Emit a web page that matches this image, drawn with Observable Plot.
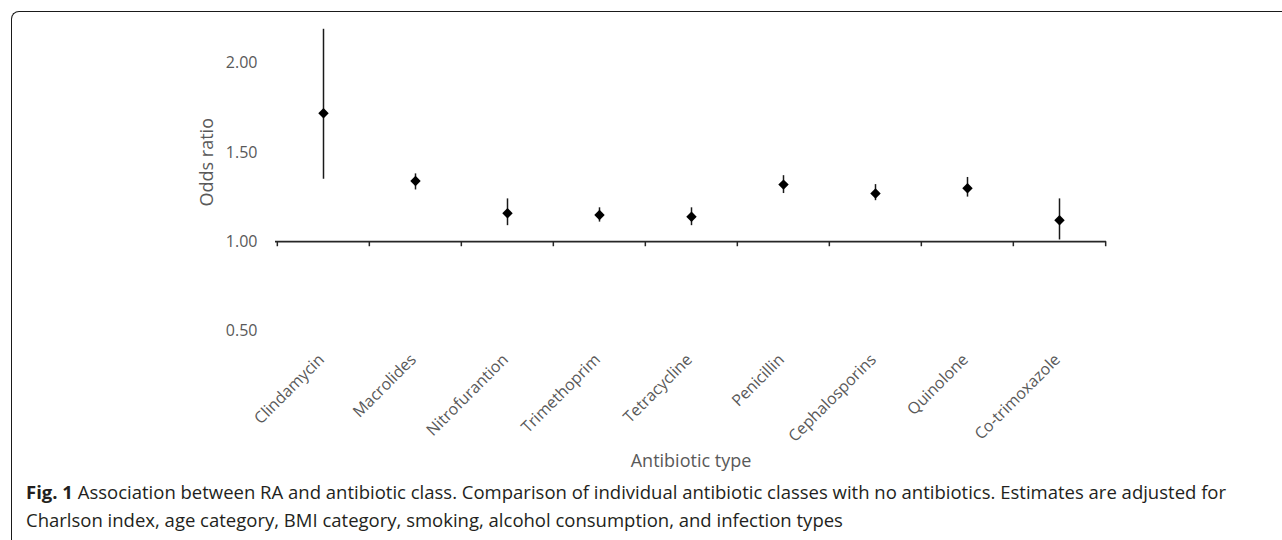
<!DOCTYPE html>
<html>
<head>
<meta charset="utf-8">
<script src="https://cdn.jsdelivr.net/npm/d3@7"></script>
<script src="https://cdn.jsdelivr.net/npm/@observablehq/plot@0.6"></script>
<style>
  html, body { margin: 0; padding: 0; background: #fff; }
  body { width: 1282px; height: 540px; position: relative; overflow: hidden; }
  .frame {
    position: absolute; left: 11px; top: 11px; right: -20px; bottom: -20px;
    border-left: 1.75px solid #1a1a1a; border-top: 1.75px solid #1a1a1a;
    border-top-left-radius: 8px;
  }
  #chart { position: absolute; left: 0; top: 0; }
  .caption {
    position: absolute; left: 26px; top: 478px;
    font-family: "Open Sans", "Noto Sans", sans-serif; font-size: 18.5px; line-height: 28px;
    color: #231f20; white-space: nowrap;
  }
  .caption b { font-weight: 700; }
</style>
</head>
<body>
<div class="frame"></div>
<div id="chart"></div>
<div class="caption"><b>Fig. 1</b> Association between RA and antibiotic class. Comparison of individual antibiotic classes with no antibiotics. Estimates are adjusted for<br>Charlson index, age category, BMI category, smoking, alcohol consumption, and infection types</div>
<script>
const categories = ["Clindamycin", "Macrolides", "Nitrofurantion", "Trimethoprim", "Tetracycline", "Penicillin", "Cephalosporins", "Quinolone", "Co-trimoxazole"];
const oddsRatio = [1.72, 1.34, 1.16, 1.15, 1.14, 1.32, 1.27, 1.30, 1.12];
const lowerCI   = [1.35, 1.29, 1.09, 1.11, 1.09, 1.27, 1.23, 1.25, 1.01];
const upperCI   = [2.19, 1.38, 1.24, 1.19, 1.19, 1.37, 1.32, 1.36, 1.24];
const yTicks = [0.5, 1.0, 1.5, 2.0];
const yLabel = "Odds ratio";
const xLabel = "Antibiotic type";

const rows = categories.map((name, i) => ({name, or: oddsRatio[i], lo: lowerCI[i], hi: upperCI[i]}));

const W = 1282, H = 480, ML = 275, MR = 176, MT = 27, MB = 149.5;
const step = (W - ML - MR) / categories.length;
const axisColor = "#262626";

const chart = Plot.plot({
  width: W, height: H,
  marginLeft: ML, marginRight: MR, marginTop: MT, marginBottom: MB,
  x: {type: "point", domain: categories, padding: 0.5},
  y: {domain: [0.5, 2.2]},
  style: {fontFamily: "'Open Sans', 'Noto Sans', sans-serif", fontSize: "16px", color: "#595959", background: "transparent", overflow: "visible"},
  marks: [
    Plot.axisY({ticks: yTicks, tickFormat: d3.format(".2f"), tickSize: 0, tickPadding: 18, label: null, fontSize: 16}),
    Plot.axisX({tickSize: 0, tickRotate: -45, tickPadding: 26, label: null, fontSize: 16, dx: -2}),
    Plot.ruleX(categories, {x: d => d, y1: () => 1, y2: () => 1, insetBottom: -5, dx: -step / 2, stroke: axisColor, strokeWidth: 1.5}),
    Plot.ruleX(categories.slice(-1), {x: d => d, y1: () => 1, y2: () => 1, insetBottom: -5, dx: step / 2, stroke: axisColor, strokeWidth: 1.5}),
    Plot.ruleY([1], {stroke: axisColor, strokeWidth: 1.75}),
    Plot.ruleX(rows, {x: "name", y1: "lo", y2: "hi", stroke: "#1a1a1a", strokeWidth: 1.5}),
    Plot.dot(rows, {x: "name", y: "or", symbol: "diamond2", r: 4.7, fill: "#000", stroke: "none"}),
    Plot.text([yLabel], {text: d => d, frameAnchor: "left", textAnchor: "middle", lineAnchor: "middle", rotate: -90, dx: -68, dy: -17, fontSize: 18, fill: "#595959"}),
    Plot.text([xLabel], {text: d => d, frameAnchor: "bottom", textAnchor: "middle", lineAnchor: "middle", dy: 130.5, fontSize: 18, fill: "#595959"})
  ]
});
document.getElementById("chart").appendChild(chart);
</script>
</body>
</html>
